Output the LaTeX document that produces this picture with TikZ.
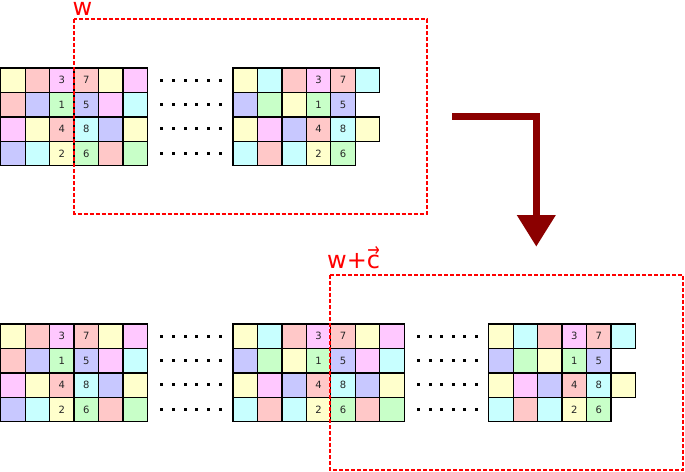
\documentclass[tikz,border=0pt]{standalone}
\usepackage{fontspec}
\setmainfont{DejaVu Sans}
\usetikzlibrary{arrows.meta}
\definecolor{cY}{HTML}{FFFFCC}
\definecolor{cP}{HTML}{FFC8C8}
\definecolor{cM}{HTML}{FFC8FF}
\definecolor{cB}{HTML}{C8C8FF}
\definecolor{cG}{HTML}{C8FFC8}
\definecolor{cC}{HTML}{C8FFFF}
\definecolor{arrowred}{HTML}{8B0000}
\newcommand\cellrow[4]{%
  \foreach [count=\i from 0] \c/\t in {#4} {
    \node[cellbox, fill=\c] (#1-\i) at ({#2+\i*24.45+12.225},{#3+12.225}) {\t};
  }}
\newcommand\dotrow[3]{%
  \foreach \k in {0,...,5} {
    \fill ({round(#1+\k*#3)},{#2}) rectangle ++(3,3);
  }}
\newcommand\vecc{\makebox[0pt][l]{\raisebox{0.5em}{\hspace{0.02em}\scalebox{0.62}[0.8]{→}}}c}
\tikzset{
  cellbox/.style={draw=black, line width=1.3pt, minimum size=24.45pt, inner sep=0pt,
    font=\fontsize{10}{12}\selectfont, text=black!85},
  winbox/.style={draw=red, line width=2pt, dash pattern=on 4.2pt off 1.8pt},
  winlabel/.style={text=red, font=\fontsize{24}{28}\selectfont, inner sep=0pt, anchor=base west},
  bigarrow/.style={draw=arrowred, line width=7.3pt, miter limit=10,
    -{Triangle[width=37pt,length=31.7pt]}}
}
\begin{document}
\begin{tikzpicture}[x=1pt,y=-1pt]
\useasboundingbox (0,0) rectangle (685,471);
% ---------- top: left grid A ----------
\cellrow{a1}{0.7}{68}{cY/,cP/,cM/3,cP/7,cY/,cM/}
\cellrow{a2}{0.7}{92.45}{cP/,cB/,cG/1,cB/5,cM/,cC/}
\cellrow{a3}{0.7}{116.9}{cM/,cY/,cP/4,cC/8,cB/,cY/}
\cellrow{a4}{0.7}{141.35}{cB/,cC/,cY/2,cG/6,cP/,cG/}
\dotrow{160}{79}{11.8}
\dotrow{160}{103}{11.8}
\dotrow{160}{127}{11.8}
\dotrow{160}{152}{11.8}
% ---------- top: middle grid B ----------
\cellrow{b1}{233}{68}{cY/,cC/,cP/,cM/3,cP/7,cC/}
\cellrow{b2}{233}{92.45}{cB/,cG/,cY/,cG/1,cB/5}
\cellrow{b3}{233}{116.9}{cY/,cM/,cB/,cP/4,cC/8,cY/}
\cellrow{b4}{233}{141.35}{cC/,cP/,cC/,cY/2,cG/6}
% ---------- bottom: left grid ----------
\cellrow{c1}{0.7}{324}{cY/,cP/,cM/3,cP/7,cY/,cM/}
\cellrow{c2}{0.7}{348.45}{cP/,cB/,cG/1,cB/5,cM/,cC/}
\cellrow{c3}{0.7}{372.9}{cM/,cY/,cP/4,cC/8,cB/,cY/}
\cellrow{c4}{0.7}{397.35}{cB/,cC/,cY/2,cG/6,cP/,cG/}
\dotrow{160}{335}{11.8}
\dotrow{160}{359}{11.8}
\dotrow{160}{383}{11.8}
\dotrow{160}{408}{11.8}
% ---------- bottom: middle grid ----------
\cellrow{d1}{233}{324}{cY/,cC/,cP/,cM/3,cP/7,cY/,cM/}
\cellrow{d2}{233}{348.45}{cB/,cG/,cY/,cG/1,cB/5,cM/,cC/}
\cellrow{d3}{233}{372.9}{cY/,cM/,cB/,cP/4,cC/8,cB/,cY/}
\cellrow{d4}{233}{397.35}{cC/,cP/,cC/,cY/2,cG/6,cP/,cG/}
\dotrow{417}{335}{11.6}
\dotrow{417}{359}{11.6}
\dotrow{417}{383}{11.6}
\dotrow{417}{408}{11.6}
% ---------- bottom: right grid ----------
\cellrow{e1}{488.7}{324}{cY/,cC/,cP/,cM/3,cP/7,cC/}
\cellrow{e2}{488.7}{348.45}{cB/,cG/,cY/,cG/1,cB/5}
\cellrow{e3}{488.7}{372.9}{cY/,cM/,cB/,cP/4,cC/8,cY/}
\cellrow{e4}{488.7}{397.35}{cC/,cP/,cC/,cY/2,cG/6}
% ---------- windows ----------
\draw[winbox] (74,19.2) rectangle (427.3,213.5);
\node[winlabel] (wtop) at (72.3,15) {w};
\draw[winbox] (329.8,274.8) rectangle (683.3,469.5);
\node[winlabel] (wbot) at (327,268) {w+\vecc};
% ---------- arrow ----------
\coordinate (arrstart) at (452,116.3);
\coordinate (arrcorner) at (536.3,116.3);
\coordinate (arrtip) at (536.3,246.7);
\draw[bigarrow] (arrstart) -- (arrcorner) -- (arrtip);
\end{tikzpicture}
\end{document}
